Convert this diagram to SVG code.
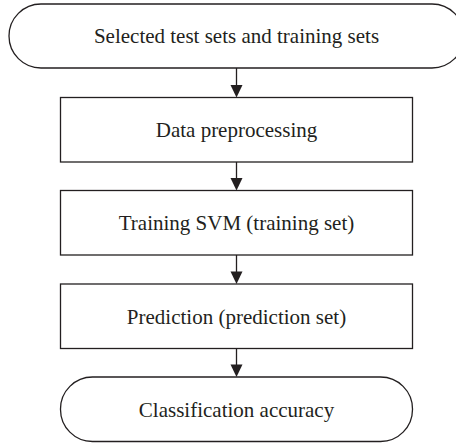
<svg xmlns="http://www.w3.org/2000/svg" width="456" height="443" viewBox="0 0 456 443">
<style>
.shape{fill:#fff;stroke:#231f20;stroke-width:1.3}
.lbl{font-family:"Liberation Serif","Times New Roman",serif;font-size:21px;fill:#231f20;text-anchor:middle}
.conn{stroke:#231f20;stroke-width:1.3;fill:none}
.head{fill:#231f20}
</style>
<rect width="456" height="443" fill="#fff"/>
<g id="start">
<rect class="shape" x="9" y="4" width="455" height="64" rx="32" ry="32"/>
<text class="lbl" x="236.5" y="43">Selected test sets and training sets</text>
</g>
<g id="preprocess">
<rect class="shape" x="60.5" y="97.5" width="352" height="64.5"/>
<text class="lbl" x="236.5" y="137">Data preprocessing</text>
</g>
<g id="train">
<rect class="shape" x="60.5" y="190.5" width="352" height="64.5"/>
<text class="lbl" x="236.5" y="230">Training SVM (training set)</text>
</g>
<g id="predict">
<rect class="shape" x="60.5" y="284" width="352" height="64.5"/>
<text class="lbl" x="236.5" y="323.5">Prediction (prediction set)</text>
</g>
<g id="end">
<rect class="shape" x="60.5" y="377" width="352" height="64.5" rx="32" ry="32"/>
<text class="lbl" x="236.5" y="417">Classification accuracy</text>
</g>
<g id="connectors">
<line class="conn" x1="236.5" y1="68" x2="236.5" y2="86"/>
<polygon class="head" points="230.5,85 242.5,85 236.5,97.5"/>
<line class="conn" x1="236.5" y1="162" x2="236.5" y2="179"/>
<polygon class="head" points="230.5,178 242.5,178 236.5,190.5"/>
<line class="conn" x1="236.5" y1="255" x2="236.5" y2="272"/>
<polygon class="head" points="230.5,271.5 242.5,271.5 236.5,284"/>
<line class="conn" x1="236.5" y1="348.5" x2="236.5" y2="365"/>
<polygon class="head" points="230.5,364.5 242.5,364.5 236.5,377"/>
</g>
</svg>
